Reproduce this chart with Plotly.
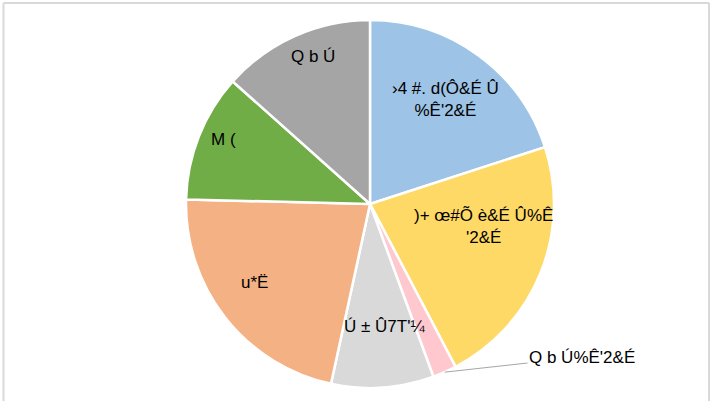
import math
import plotly.graph_objects as go

labels = [
    "›4 #. d(Ô&É Û<br>%Ê'2&É",
    ")+ œ#Õ è&É Û%Ê<br>'2&É",
    "Q b Ú%Ê'2&É",
    "Ú ± Û7T'¼",
    "u*Ë",
    "M (",
    "Q b Ú",
]
values = [20.0, 22.3, 2.1, 9.0, 22.0, 11.2, 13.4]
colors = ["#9DC3E6", "#FFD966", "#FFC7CE", "#D9D9D9", "#F4B183", "#70AD47", "#A5A5A5"]

# label placement style: (angle shift from slice middle in degrees, radius fraction)
label_style = [(0, 0.70), (-11, 0.63), None, (-3, 0.67), (4, 0.76), (2, 0.87), (3, 0.86)]

W, H = 711, 401
cx, cy, r = 370, 204, 184
dom_x = [(cx - r) / W, (cx + r) / W]
dom_y = [1 - (cy + r) / H, 1 - (cy - r) / H]
FONT = dict(family="Liberation Sans, Arial, sans-serif", size=17, color="#000000")

fig = go.Figure(go.Pie(
    labels=labels,
    values=values,
    textinfo="none",
    sort=False,
    direction="clockwise",
    rotation=0,
    marker=dict(colors=colors, line=dict(color="white", width=2.5)),
    domain=dict(x=dom_x, y=dom_y),
    showlegend=False,
    hoverinfo="label+percent",
))

total = sum(values)
acc = 0.0
mids = []
for v in values:
    mids.append((acc + v / 2) / total * 360)
    acc += v

for i, lab in enumerate(labels):
    st = label_style[i]
    if st is None:
        continue
    ang = math.radians(mids[i] + st[0])
    x = cx + st[1] * r * math.sin(ang)
    y = cy - st[1] * r * math.cos(ang)
    fig.add_annotation(x=x / W, y=1 - y / H, xref="paper", yref="paper",
                       xanchor="center", yanchor="middle",
                       text=lab, showarrow=False, font=FONT, align="center")

# leader label for the small slice, tip at the slice edge (from data)
ang = math.radians(mids[2])
tip_x = cx + r * math.sin(ang)
tip_y = cy - r * math.cos(ang)
fig.add_annotation(
    x=tip_x / W, y=1 - tip_y / H, xref="paper", yref="paper",
    ax=582 - tip_x, ay=357 - tip_y,
    text=labels[2], showarrow=True, arrowhead=0, arrowwidth=1, arrowcolor="#A6A6A6",
    font=FONT,
)

# chart frame (no bottom edge visible)
frame = dict(color="#D9D9D9", width=2)
fig.add_shape(type="line", xref="paper", yref="paper", x0=3.5 / W, x1=3.5 / W, y0=0, y1=1 - 3 / H, line=frame)
fig.add_shape(type="line", xref="paper", yref="paper", x0=3.5 / W, x1=709 / W, y0=1 - 3 / H, y1=1 - 3 / H, line=frame)
fig.add_shape(type="line", xref="paper", yref="paper", x0=709 / W, x1=709 / W, y0=0, y1=1 - 3 / H, line=frame)

fig.update_layout(
    width=W, height=H,
    margin=dict(l=0, r=0, t=0, b=0),
    paper_bgcolor="white", plot_bgcolor="white",
)
fig.write_html("out.html", config={"displayModeBar": False},
               post_script="document.body.style.margin='0px';document.body.style.overflow='hidden';")
